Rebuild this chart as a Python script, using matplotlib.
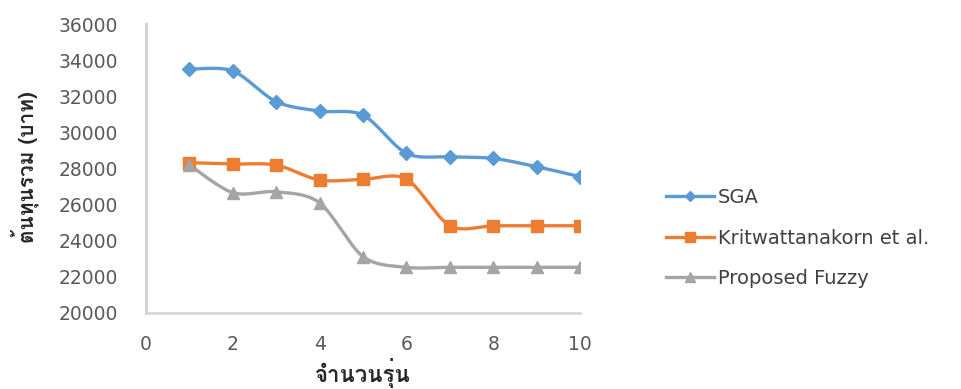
import numpy as np
import matplotlib
matplotlib.use("Agg")
import matplotlib.pyplot as plt
from matplotlib import font_manager
from matplotlib.ft2font import FT2Font

# Data
generations = [1, 2, 3, 4, 5, 6, 7, 8, 9, 10]
sga = [33500, 33400, 31700, 31180, 30960, 28840, 28650, 28560, 28100, 27550]
kritwattanakorn = [28320, 28250, 28190, 27360, 27400, 27420, 24830, 24830, 24830, 24830]
proposed_fuzzy = [28200, 26660, 26710, 26100, 23120, 22530, 22530, 22530, 22530, 22530]
series_names = ["SGA", "Kritwattanakorn et al.", "Proposed Fuzzy"]
x_ticks = [0, 2, 4, 6, 8, 10]
y_ticks = [20000, 22000, 24000, 26000, 28000, 30000, 32000, 34000, 36000]
x_label = "จำนวนรุ่น"
y_label = "ต้นทุนรวม (บาท)"


def thai_families():
    """Installed families that contain Thai glyphs."""
    found = []
    for f in font_manager.fontManager.ttflist:
        try:
            cmap = FT2Font(f.fname).get_charmap()
        except Exception:
            continue
        if 0x0E15 in cmap and 0x0E19 in cmap and f.name not in found:
            found.append(f.name)
    return found


thai = thai_families()
base_family = ["DejaVu Sans"]
label_family = thai + base_family

plt.rcParams["font.family"] = base_family


def smooth(xs, ys, n=40, k=1 / 6):
    """Cubic Bezier smoothing through every point (Catmull-Rom style control points)."""
    xs = np.asarray(xs, float)
    ys = np.asarray(ys, float)
    px = np.concatenate([[xs[0]], xs, [xs[-1]]])
    py = np.concatenate([[ys[0]], ys, [ys[-1]]])
    out_x, out_y = [], []
    t = np.linspace(0, 1, n)
    for i in range(1, len(px) - 2):
        p0 = np.array([px[i], py[i]])
        p3 = np.array([px[i + 1], py[i + 1]])
        c1 = p0 + (np.array([px[i + 1], py[i + 1]]) - np.array([px[i - 1], py[i - 1]])) * k
        c2 = p3 - (np.array([px[i + 2], py[i + 2]]) - np.array([px[i], py[i]])) * k
        b = ((1 - t) ** 3)[:, None] * p0 + (3 * (1 - t) ** 2 * t)[:, None] * c1 \
            + (3 * (1 - t) * t ** 2)[:, None] * c2 + (t ** 3)[:, None] * p3
        out_x.extend(b[:, 0])
        out_y.extend(b[:, 1])
    return np.array(out_x), np.array(out_y)


fig = plt.figure(figsize=(9.62, 3.89), dpi=100)
ax = fig.add_axes([146 / 962, 1 - 313 / 389, (580 - 146) / 962, (313 - 24) / 389])

styles = [
    dict(color="#5B9BD5", marker="D", ms=7),
    dict(color="#ED7D31", marker="s", ms=9),
    dict(color="#A5A5A5", marker="^", ms=9),
]
handles = []
for vals, name, st in zip([sga, kritwattanakorn, proposed_fuzzy], series_names, styles):
    sx, sy = smooth(generations, vals, k=0.15)
    ax.plot(sx, sy, color=st["color"], lw=2.4, solid_capstyle="round", zorder=2)
    ax.plot(generations, vals, ls="none", marker=st["marker"], ms=st["ms"],
            color=st["color"], mec=st["color"], zorder=3)
    h, = ax.plot([], [], color=st["color"], lw=2.4, marker=st["marker"],
                 ms=st["ms"] * 0.8, mec=st["color"], label=name)
    handles.append(h)

ax.set_xlim(0, 10)
ax.set_ylim(20000, 36000)
ax.set_xticks(x_ticks)
ax.set_yticks(y_ticks)
ax.tick_params(axis="both", length=0, labelsize=13.5, colors="#595959")
ax.tick_params(axis="y", pad=20)
ax.tick_params(axis="x", pad=16)
for s in ["top", "right"]:
    ax.spines[s].set_visible(False)
ax.spines["left"].set_color("#D4D4D4")
ax.spines["left"].set_linewidth(2.2)
ax.spines["bottom"].set_color("#D4D4D4")
ax.spines["bottom"].set_linewidth(1.8)

fig.text(363 / 962, 1 - 373 / 389, x_label, ha="center", va="center",
         fontsize=16, fontweight="bold", family=label_family, color="#262626")
fig.text(25 / 962, 1 - 167 / 389, y_label, ha="center", va="center", rotation=90,
         fontsize=15, fontweight="bold", family=label_family, color="#262626")

fig.legend(handles=handles, loc="center left", bbox_to_anchor=(648 / 962, 1 - 238 / 389),
           frameon=False, fontsize=14, handlelength=2.5, handletextpad=0.2,
           labelspacing=1.1, labelcolor="#404040")

fig.savefig("out.png", dpi=100, facecolor="white")
